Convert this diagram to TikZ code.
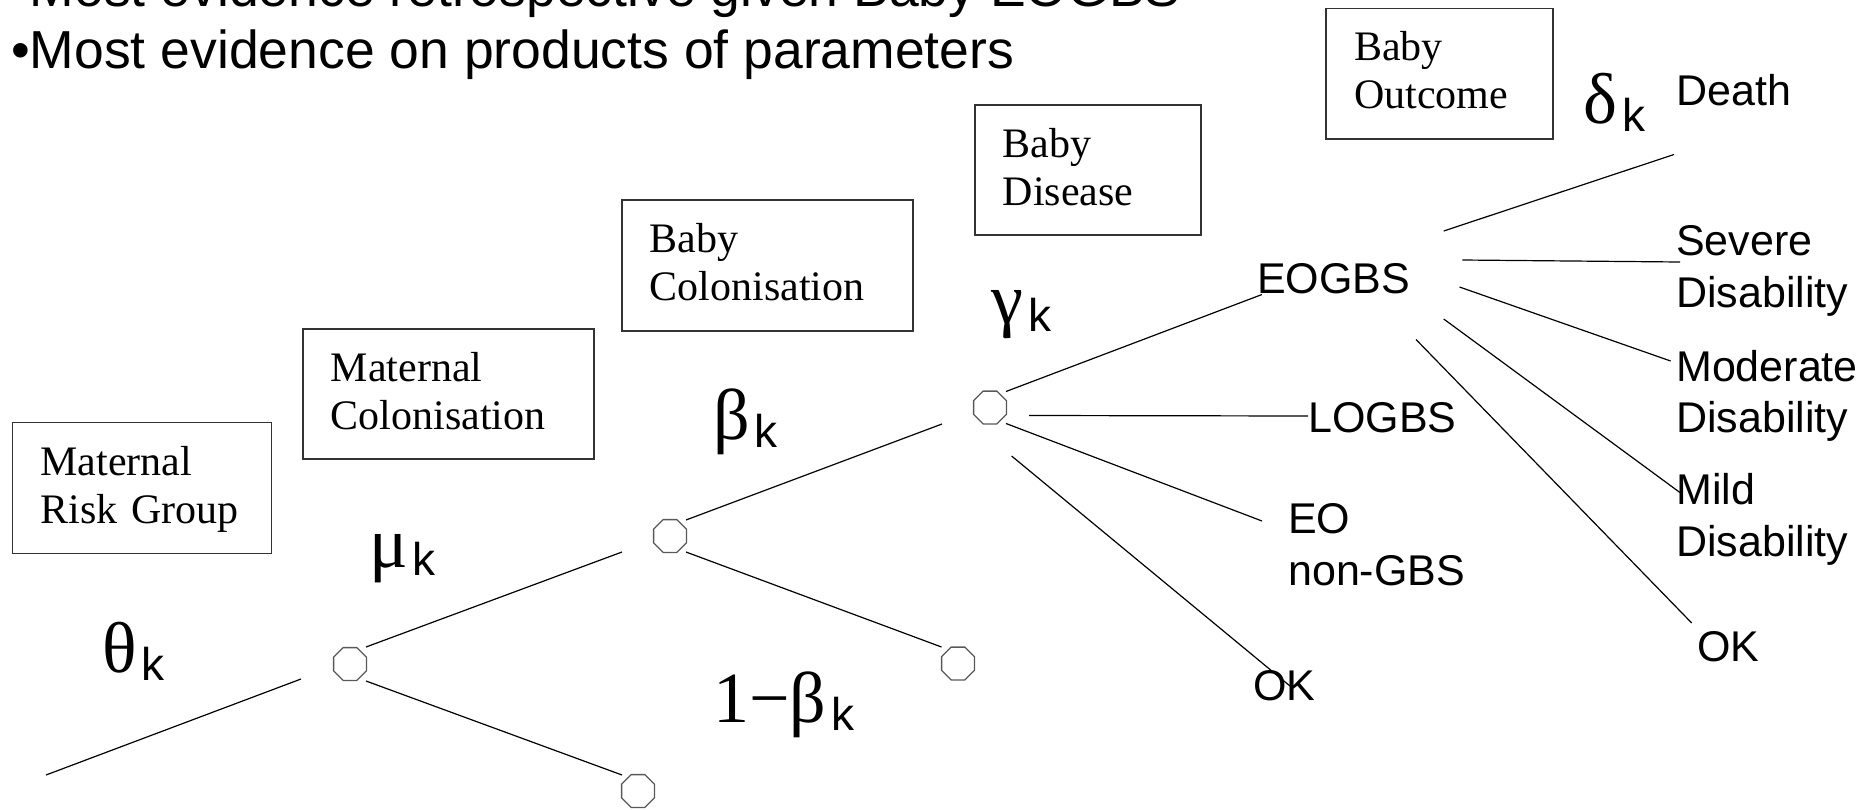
\documentclass[tikz,border=0pt]{standalone}
\usepackage{fontspec}
\setmainfont{Liberation Sans}
\newfontfamily\tms{Liberation Serif}
\usetikzlibrary{shapes.geometric}
\newcommand\grlab[1]{{\tms\fontsize{72}{72}\selectfont #1}\kern5pt\raisebox{-8pt}{\fontsize{46}{46}\selectfont k}}
\newcommand\twoline[2]{\rule{0pt}{32pt}#1\\#2\rule[-9.5pt]{0pt}{0pt}}
\begin{document}
\begin{tikzpicture}[x=1pt,y=-1pt,
  oct/.style={regular polygon, regular polygon sides=8, draw=black!65, line width=1.3pt, minimum size=35.5pt, inner sep=0pt},
  branch/.style={line width=1.2pt, black},
  catbox/.style={draw=black!80, line width=1.5pt, inner xsep=28pt, inner ysep=0pt, align=left, font=\tms\fontsize{42}{48}\selectfont, anchor=north west},
  lab/.style={inner sep=0pt, anchor=base west, align=left, font=\fontsize{43}{51.5}\selectfont},
  glab/.style={inner sep=0pt, anchor=base west},
  toptext/.style={inner sep=0pt, anchor=base west, font=\fontsize{53.5}{62}\selectfont}]
\useasboundingbox (0,0) rectangle (1872,809);
\clip (0,0) rectangle (1872,809);

% heading text
\node[toptext] (t1) at (11,6.5) {•Most evidence retrospective given Baby EOGBS};
\node[toptext] (t2) at (11,68) {•Most evidence on products of parameters};

% category boxes
\node[catbox, text width=203pt, minimum height=131pt] (mrg) at (11.6,421.7) {\twoline{Maternal}{Risk Group}};
\node[catbox, text width=235pt, minimum height=130.3pt] (mc) at (302,328) {\twoline{Maternal}{Colonisation}};
\node[catbox, text width=235pt, minimum height=131pt] (bc) at (621,199) {\twoline{Baby}{Colonisation}};
\node[catbox, text width=170pt, minimum height=130pt] (bd) at (974,104) {\twoline{Baby}{Disease}};
\node[catbox, text width=171pt, minimum height=130.7pt] (bo) at (1325.4,7.6) {\twoline{Baby}{Outcome}};

% chance nodes
\node[oct] (n1) at (350,664) {};
\node[oct] (n2) at (670,536) {};
\node[oct] (n3) at (638,791) {};
\node[oct] (n4) at (990,407.5) {};
\node[oct] (n5) at (958,663.5) {};

% parameter labels
\node[glab] (theta) at (102,672) {\grlab{θ}};
\node[glab] (mu) at (369,567) {\grlab{μ}};
\node[glab] (beta) at (713,439) {\grlab{β}};
\node[glab] (gamma) at (991,323) {\grlab{γ}};
\node[glab] (delta) at (1583,123) {\grlab{δ}};
\node[glab] (onemb) at (713,722) {\grlab{1−β}};

% outcome labels (base = baseline of last line)
\node[lab] (eogbs) at (1257,293.5) {EOGBS};
\node[lab] (logbs) at (1308,432.7) {LOGBS};
\node[lab] (eonon) at (1288,585) {EO\\non-GBS};
\node[lab] (okg) at (1253,700) {OK};
\node[lab] (death) at (1676,105.5) {Death};
\node[lab] (severe) at (1676,307) {Severe\\Disability};
\node[lab] (moder) at (1676,432.5) {Moderate\\Disability};
\node[lab] (mild) at (1676,556) {Mild\\Disability};
\node[lab] (okd) at (1697,661.5) {OK};

% connector end points
\coordinate (r0) at (46,775);    \coordinate (r1) at (301,679);
\coordinate (a0) at (366,647);   \coordinate (a1) at (622,552);
\coordinate (b0) at (366,681);   \coordinate (b1) at (622,775);
\coordinate (c0) at (686,520);   \coordinate (c1) at (942,424);
\coordinate (d0) at (686,552);   \coordinate (d1) at (941.5,647);
\coordinate (e0) at (1006,391.5); \coordinate (e1) at (1262,294.5);
\coordinate (f0) at (1029,415.5); \coordinate (f1) at (1308,416);
\coordinate (g0) at (1006,423.5); \coordinate (g1) at (1262,521);
\coordinate (h0) at (1011.6,456); \coordinate (h1) at (1290,686);
\coordinate (i0) at (1443.7,231); \coordinate (i1) at (1674,154.5);
\coordinate (j0) at (1462.3,260); \coordinate (j1) at (1680,262);
\coordinate (k0) at (1459.5,287); \coordinate (k1) at (1670.6,361);
\coordinate (l0) at (1443.7,319); \coordinate (l1) at (1680.6,493);
\coordinate (m0) at (1416,339.5); \coordinate (m1) at (1691.7,623);

% connectors
\draw[branch] (r0) -- (r1);
\draw[branch] (a0) -- (a1);
\draw[branch] (b0) -- (b1);
\draw[branch] (c0) -- (c1);
\draw[branch] (d0) -- (d1);
\draw[branch] (e0) -- (e1);
\draw[branch] (f0) -- (f1);
\draw[branch] (g0) -- (g1);
\draw[branch] (h0) -- (h1);
\draw[branch] (i0) -- (i1);
\draw[branch] (j0) -- (j1);
\draw[branch] (k0) -- (k1);
\draw[branch] (l0) -- (l1);
\draw[branch] (m0) -- (m1);
\end{tikzpicture}
\end{document}
